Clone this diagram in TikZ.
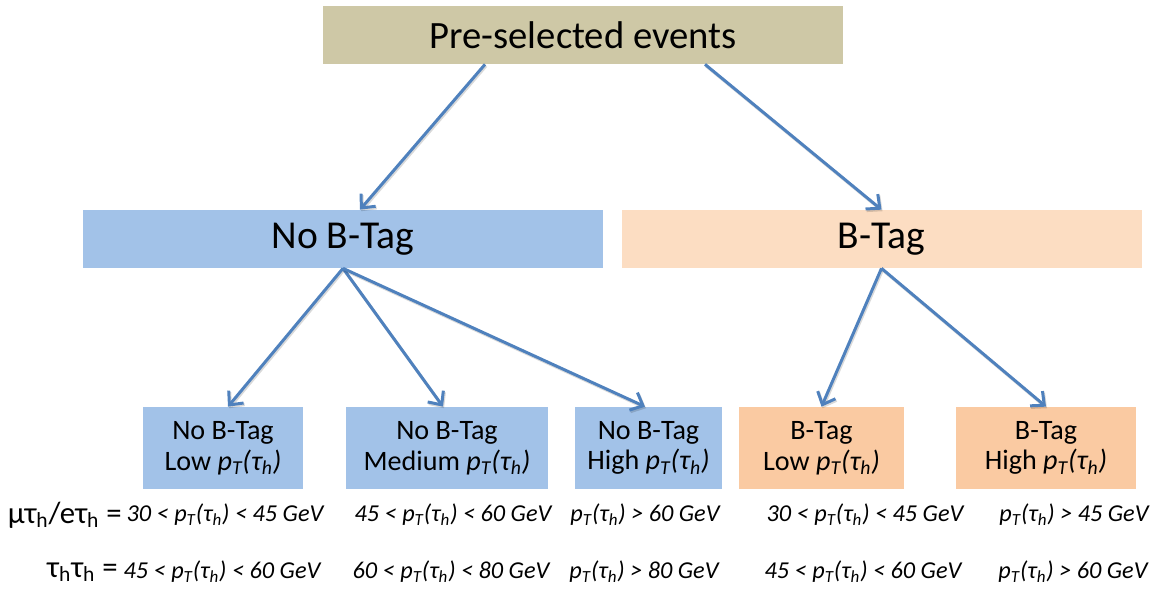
\documentclass[tikz,border=0pt]{standalone}
\usepackage{fontspec}
\setmainfont{Carlito}
\usetikzlibrary{arrows.meta,positioning}

\definecolor{tanbox}{RGB}{206,200,166}
\definecolor{bluebox}{RGB}{162,194,232}
\definecolor{peachbox}{RGB}{252,221,194}
\definecolor{peachcat}{RGB}{250,202,162}
\definecolor{arrowblue}{RGB}{79,129,189}

\newcommand{\ptau}{{\itshape p\textsubscript{T}(τ\textsubscript{h})}}

\begin{document}
\begin{tikzpicture}
\tikzset{block/.style={rectangle,inner sep=0pt,align=center}}
\tikzset{catbox/.style={block,minimum height=1.64cm,font=\fontsize{16}{17.5}\selectfont}}
\tikzset{cut/.style={inner sep=0pt,font=\fontsize{13.8}{16}\selectfont\itshape}}
\tikzset{chan/.style={inner sep=0pt,anchor=east,font=\fontsize{17.5}{20}\selectfont}}
\tikzset{link/.style={draw=arrowblue,line width=1.7pt,-{Straight Barb[length=6pt,width=11pt]},
  preaction={draw=black,opacity=0.15,line width=1.7pt,transform canvas={shift={(0.6pt,-0.9pt)}}}}}
\useasboundingbox (0,0) rectangle (23.06,11.8);

% top level
\node [block, fill=tanbox, minimum width=10.4cm, minimum height=1.16cm,
  font=\fontsize{22}{26}\selectfont] (pre) at (11.66,11.1) {Pre-selected events};

% b-tag split
\node [block, fill=bluebox, minimum width=10.4cm, minimum height=1.16cm,
  font=\fontsize{22.5}{26}\selectfont] (notag) at (6.86,7.02) {No B-Tag};
\node [block, fill=peachbox, minimum width=10.4cm, minimum height=1.16cm,
  font=\fontsize{22.5}{26}\selectfont] (tag) at (17.63,7.02) {B-Tag};

% categories
\node [catbox, fill=bluebox, minimum width=3.2cm] (c1) at (4.46,2.84) {No B-Tag\\Low \ptau};
\node [catbox, fill=bluebox, minimum width=4.04cm] (c2) at (8.94,2.84) {No B-Tag\\Medium \ptau};
\node [catbox, fill=bluebox, minimum width=2.94cm] (c3) at (12.97,2.84) {No B-Tag\\High \ptau};
\node [catbox, fill=peachcat, minimum width=3.3cm] (c4) at (16.43,2.84) {B-Tag\\Low \ptau};
\node [catbox, fill=peachcat, minimum width=3.6cm] (c5) at (20.92,2.84) {B-Tag\\High \ptau};

\draw [link] ([xshift=-1.96cm]pre.south) -- ([xshift=0.34cm]notag.north);
\draw [link] ([xshift=2.44cm]pre.south) -- (tag.north);
\draw [link] (notag.south) -- ([xshift=0.1cm]c1.north);
\draw [link] (notag.south) -- ([xshift=-0.08cm]c2.north);
\draw [link] (notag.south) -- ([xshift=-0.07cm]c3.north);
\draw [link] (tag.south) -- (c4.north);
\draw [link] (tag.south) -- (c5.north);

% pT cuts per channel
\node [chan] (lep) at (2.44,1.5) {μτ\textsubscript{h}/eτ\textsubscript{h} =};
\node [chan] (had) at (2.36,0.36) {τ\textsubscript{h}τ\textsubscript{h} =};

\node [cut] (l1) at (4.5,1.5) {30 < \ptau{} < 45 GeV};
\node [cut] (l2) at (9.06,1.5) {45 < \ptau{} < 60 GeV};
\node [cut] (l3) at (12.9,1.5) {\ptau{} > 60 GeV};
\node [cut] (l4) at (17.3,1.5) {30 < \ptau{} < 45 GeV};
\node [cut] (l5) at (21.48,1.5) {\ptau{} > 45 GeV};

\node [cut] (h1) at (4.44,0.36) {45 < \ptau{} < 60 GeV};
\node [cut] (h2) at (9.02,0.36) {60 < \ptau{} < 80 GeV};
\node [cut] (h3) at (12.88,0.36) {\ptau{} > 80 GeV};
\node [cut] (h4) at (17.26,0.36) {45 < \ptau{} < 60 GeV};
\node [cut] (h5) at (21.46,0.36) {\ptau{} > 60 GeV};
\end{tikzpicture}
\end{document}
